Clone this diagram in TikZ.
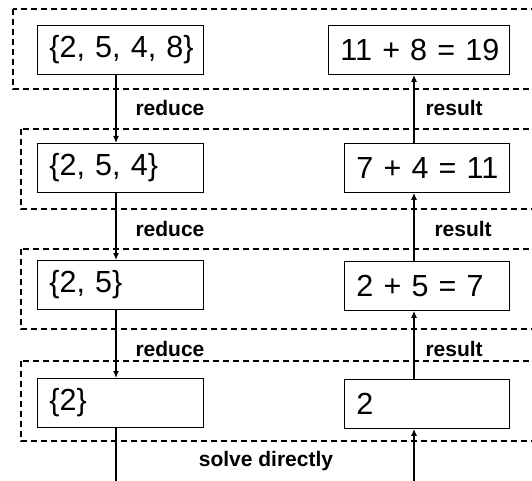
\documentclass[tikz,border=0pt]{standalone}
\usepackage{fontspec}
\setmainfont{Liberation Sans}
\usetikzlibrary{arrows.meta,positioning}
\tikzset{
  cell/.style={draw, line width=0.9pt, minimum height=49pt, inner xsep=12pt,
               text width=#1, align=left, anchor=north west,
               font=\fontsize{30.5}{34}\selectfont},
  group/.style={draw, dash pattern=on 6pt off 4pt, line width=1.1pt},
  flow/.style={line width=1.2pt, -{Latex[length=7pt,width=6pt]}},
  plain/.style={line width=1.2pt},
  tag/.style={font=\fontsize{21}{24}\selectfont\bfseries}
}
\begin{document}
\begin{tikzpicture}[x=1pt,y=-1pt]
  \useasboundingbox (0,0) rectangle (532,481);
  \clip (0,0) rectangle (532,481);
  % Dashed levels
  \draw[group] (13,9) rectangle (545,89);
  \draw[group] (21,129) rectangle (545,209);
  \draw[group] (21,249) rectangle (545,329);
  \draw[group] (21,361) rectangle (545,441);
  % Left column: the lists
  \node[cell=142pt] (l1) at (37,25) {\mbox{\{2, 5, 4, 8\}}};
  \node[cell=142pt] (l2) at (37,143) {\mbox{\{2, 5, 4\}}};
  \node[cell=142pt] (l3) at (37,260) {\mbox{\{2, 5\}}};
  \node[cell=142pt] (l4) at (37,378) {\mbox{\{2\}}};
  % Right column: the sums
  \node[cell=157pt] (r1) at (328,25) {\mbox{11 + 8 = 19}};
  \node[cell=141pt] (r2) at (344,143) {\mbox{7 + 4 = 11}};
  \node[cell=141pt] (r3) at (344,261) {\mbox{2 + 5 = 7}};
  \node[cell=141pt] (r4) at (344,379) {\mbox{2}};
  % Arrow columns and free ends
  \coordinate (xl) at (116,0);
  \coordinate (xr) at (414,0);
  \coordinate (bl) at (116,485);
  \coordinate (br) at (414,485);
  % Reduce steps
  \draw[flow] (l1.south -| xl) -- (l2.north -| xl);
  \draw[flow] (l2.south -| xl) -- (l3.north -| xl);
  \draw[flow] (l3.south -| xl) -- (l4.north -| xl);
  \draw[plain] (l4.south -| xl) -- (bl);
  % Result steps
  \draw[flow] (br) -- (r4.south -| xr);
  \draw[flow] (r4.north -| xr) -- (r3.south -| xr);
  \draw[flow] (r3.north -| xr) -- (r2.south -| xr);
  \draw[flow] (r2.north -| xr) -- (r1.south -| xr);
  % Labels
  \node[tag,anchor=west] (red1) at (132,108) {reduce};
  \node[tag,anchor=west] (red2) at (132,229) {reduce};
  \node[tag,anchor=west] (red3) at (132,349) {reduce};
  \node[tag,anchor=west] (res1) at (422,108) {result};
  \node[tag,anchor=west] (res2) at (431,229) {result};
  \node[tag,anchor=west] (res3) at (422,349) {result};
  \node[tag] (solve) at (266,461) {solve directly};
\end{tikzpicture}
\end{document}
